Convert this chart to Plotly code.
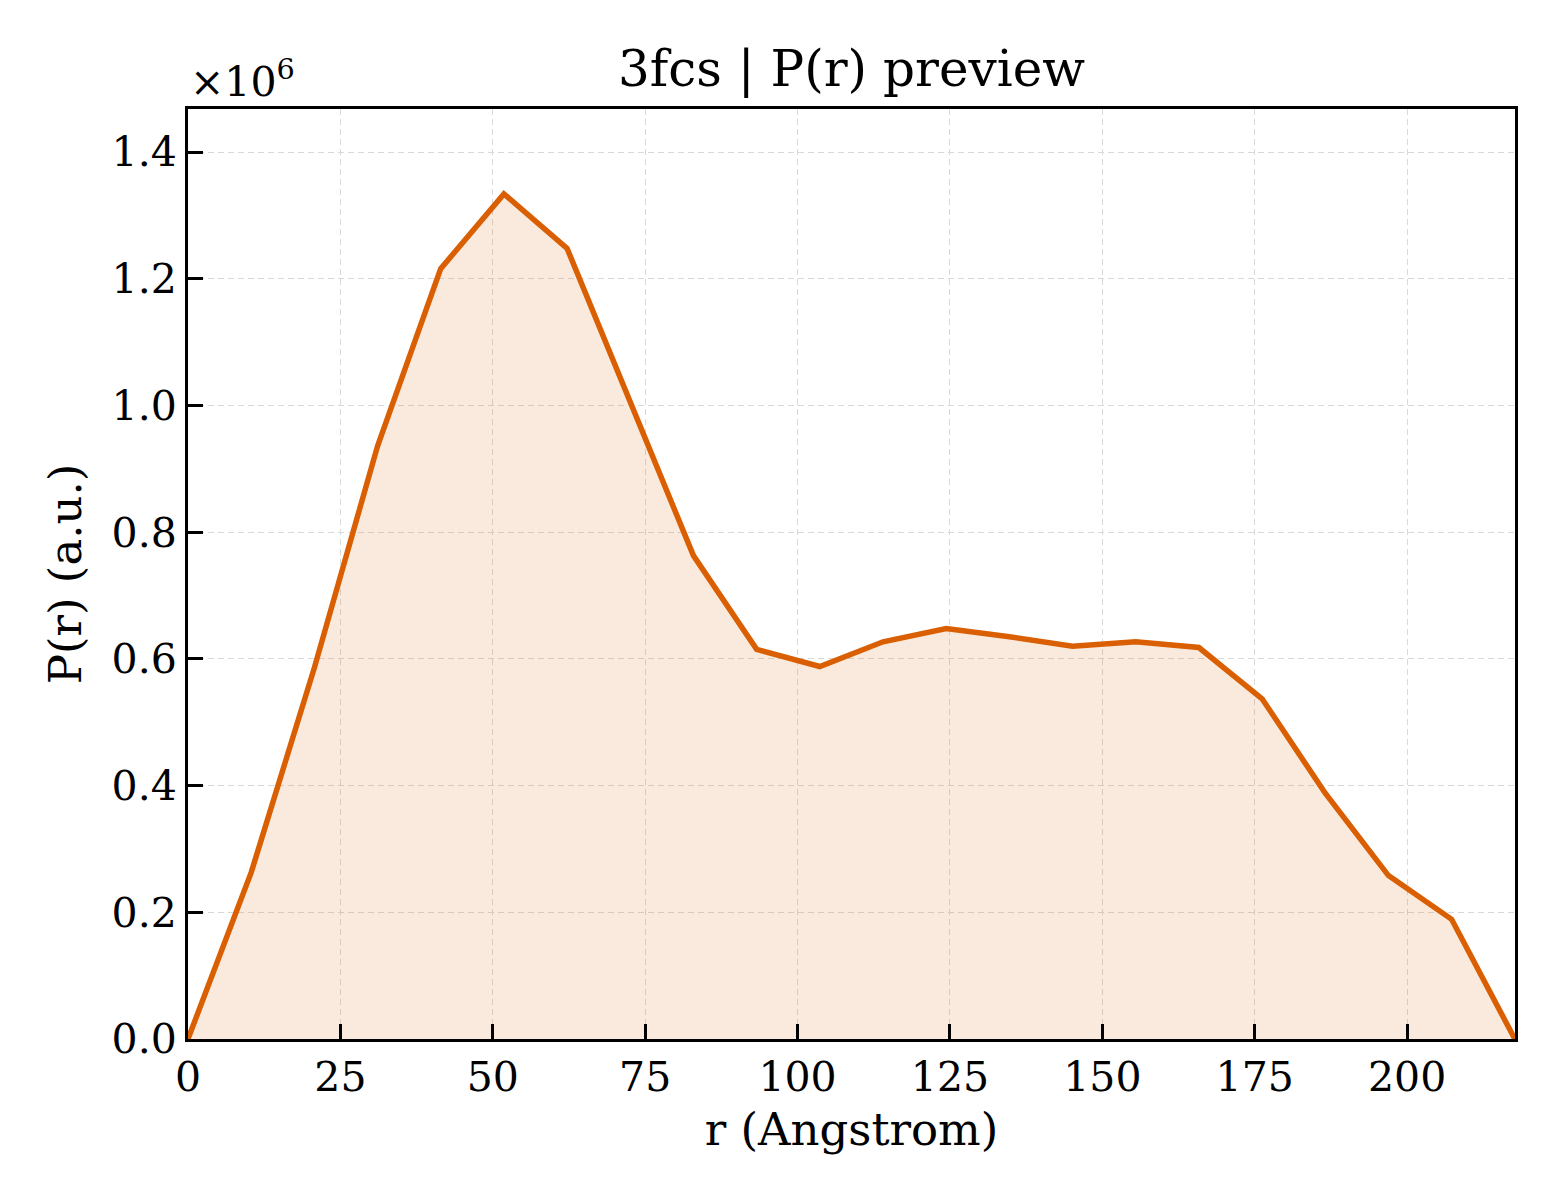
import plotly.graph_objects as go

R_ANGSTROM = [0.0, 10.37, 20.73, 31.10, 41.46, 51.83, 62.19, 72.56, 82.92, 93.29, 103.65,
              114.02, 124.38, 134.75, 145.11, 155.48, 165.84, 176.21, 186.57, 196.94, 207.30, 217.67]
PR_VALUES = [0, 263000, 586000, 936000, 1216000, 1334000, 1248000, 1007000, 763000, 615000, 588000,
             627000, 648000, 635000, 620000, 627000, 618000, 537000, 388000, 258000, 189000, 0]

X_TICKS = [0, 25, 50, 75, 100, 125, 150, 175, 200]
Y_TICKS = [0, 200000, 400000, 600000, 800000, 1000000, 1200000, 1400000]
Y_TICK_TEXT = ['0.0', '0.2', '0.4', '0.6', '0.8', '1.0', '1.2', '1.4']

LINE_COLOR = '#d95f02'
FONT = 'DejaVu Serif'

fig = go.Figure()
fig.add_trace(go.Scatter(
    x=R_ANGSTROM,
    y=PR_VALUES,
    mode='lines',
    line=dict(color=LINE_COLOR, width=5.5),
    fill='tozeroy',
    fillcolor='rgba(217,95,2,0.13)',
    showlegend=False,
))

axis_style = dict(
    showline=True,
    linecolor='black',
    linewidth=3,
    mirror=True,
    ticks='inside',
    ticklen=15,
    tickwidth=3,
    tickcolor='black',
    showgrid=True,
    gridcolor='#d9d9d9',
    gridwidth=1.3,
    griddash='6px,4px',
    zeroline=False,
    tickfont=dict(family=FONT, size=41, color='black'),
)

fig.update_xaxes(
    range=[0, 217.7],
    tickvals=X_TICKS,
    title=dict(text='r (Angstrom)', font=dict(family=FONT, size=45, color='black'), standoff=14),
    **axis_style,
)
fig.update_yaxes(
    range=[0, 1468000],
    tickvals=Y_TICKS,
    ticktext=Y_TICK_TEXT,
    title=dict(text='P(r) (a.u.)', font=dict(family=FONT, size=45, color='black'), standoff=16),
    **axis_style,
)

# matplotlib-style offset label above the y axis
fig.add_annotation(
    text='×10<sup>6</sup>',
    xref='paper', yref='paper',
    x=0, y=1,
    xanchor='left', yanchor='bottom',
    yshift=1,
    showarrow=False,
    font=dict(family=FONT, size=41, color='black'),
)

fig.update_layout(
    width=1560,
    height=1200,
    margin=dict(l=180, r=53, t=101, b=169),
    paper_bgcolor='white',
    plot_bgcolor='white',
    title=dict(
        text='3fcs | P(r) preview',
        x=(180 + (1560 - 53)) / 2 / 1560,
        xanchor='center',
        y=1 - 60 / 1200,
        yanchor='middle',
        font=dict(family=FONT, size=50, color='black'),
    ),
)

fig.write_html('out.html')
